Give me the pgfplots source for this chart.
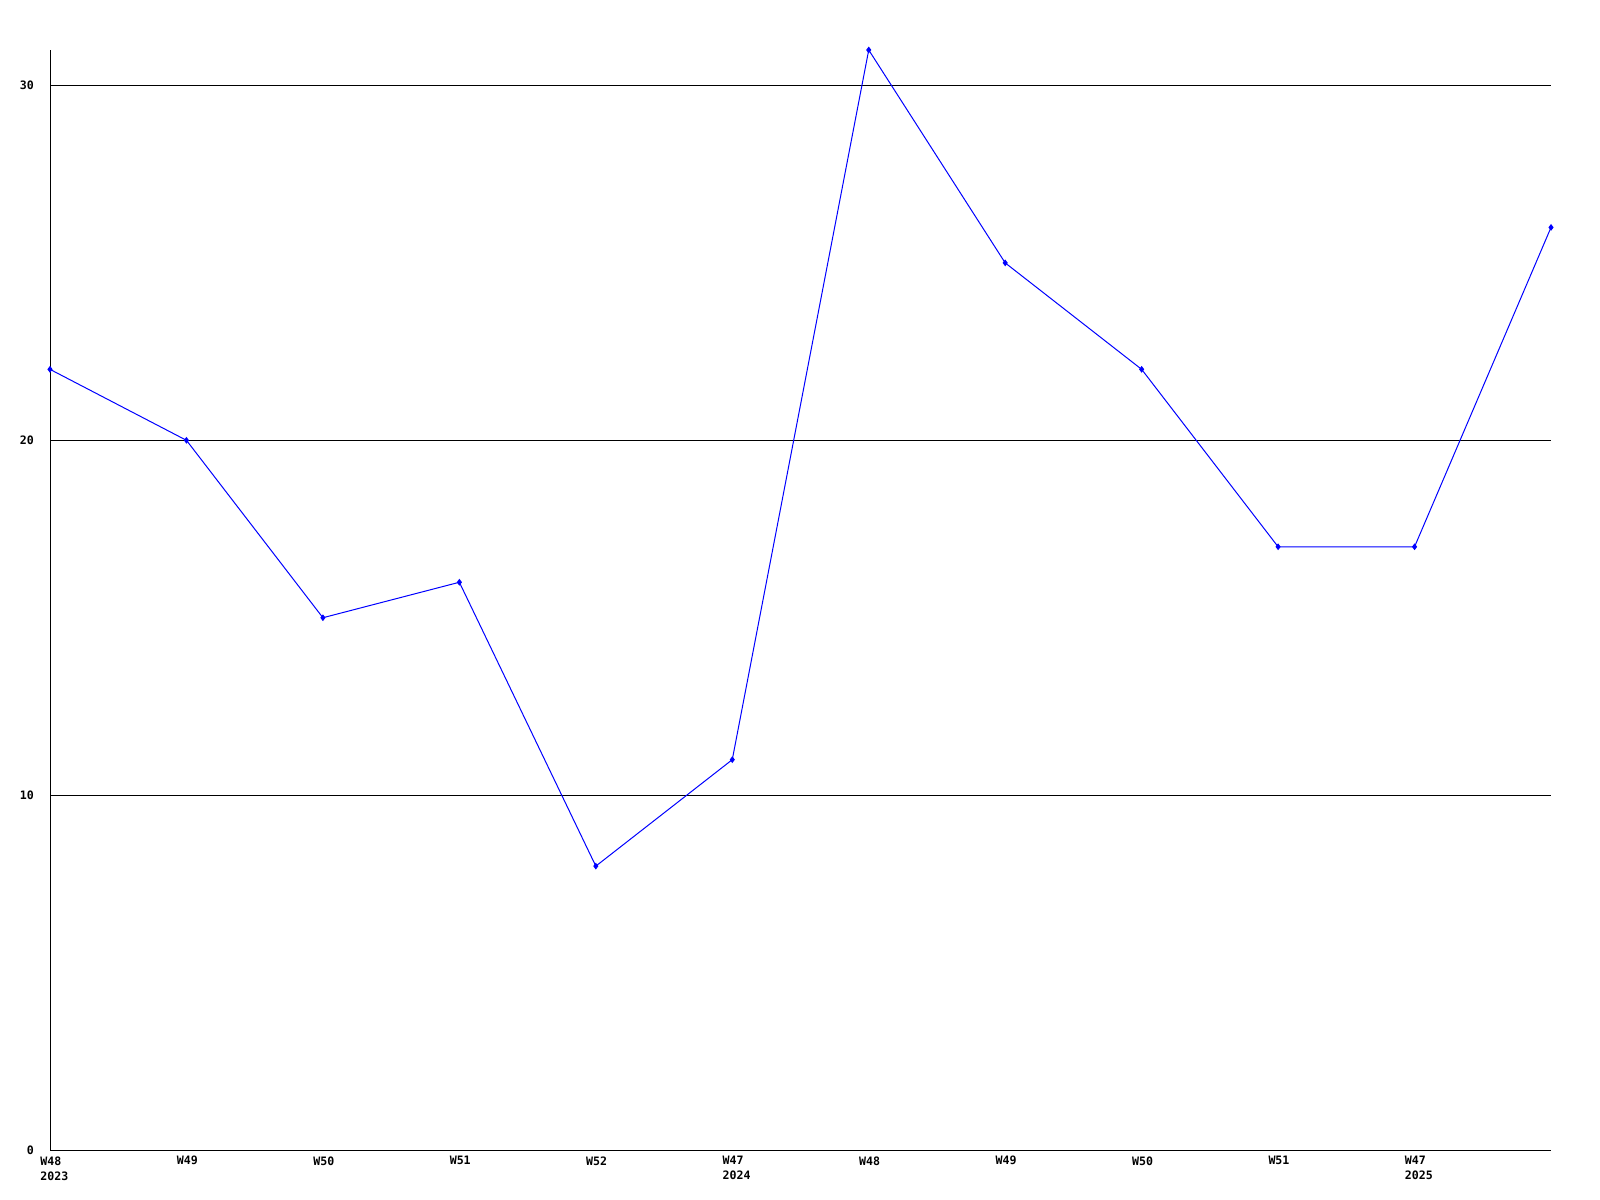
\documentclass[border=0pt]{standalone}
\usepackage{fontspec}
\setmainfont{DejaVu Sans Mono}
\usepackage{pgfplots}
\pgfplotsset{compat=1.18}

\begin{document}
\begin{tikzpicture}
\useasboundingbox (0,0) rectangle (800bp,600bp);
\begin{axis}[
    at={(25bp,25bp)}, anchor=south west,
    scale only axis,
    width=750.5bp, height=550bp,
    xmin=0, xmax=11,
    ymin=0, ymax=31,
    axis x line=bottom, axis y line=left,
    axis line style={-, line width=0.5bp},
    major tick length=0pt,
    xtick={0,...,10},
    xticklabels={{W48\\2023},W49,W50,W51,W52,{W47\\2024},W48,W49,W50,W51,{W47\\2025}},
    ytick={0,10,20,30},
    ymajorgrids=true,
    grid style={black, line width=0.5bp},
    tick label style={font=\bfseries\fontsize{5.8bp}{7.5bp}\selectfont},
    xticklabel style={anchor=north west, align=left, xshift=-6bp, inner sep=1bp, yshift=-2bp},
    yticklabel style={anchor=east, xshift=-4.5bp},
    /pgf/number format/assume math mode=true,
    clip=false,
]
\addplot[color=blue, line width=0.5bp, mark=diamond*, mark size=1.3bp]
coordinates {
(0,22)(1,20)(2,15)(3,16)(4,8)(5,11)(6,31)(7,25)(8,22)(9,17)(10,17)(11,26)
};
\end{axis}
\end{tikzpicture}
\end{document}
